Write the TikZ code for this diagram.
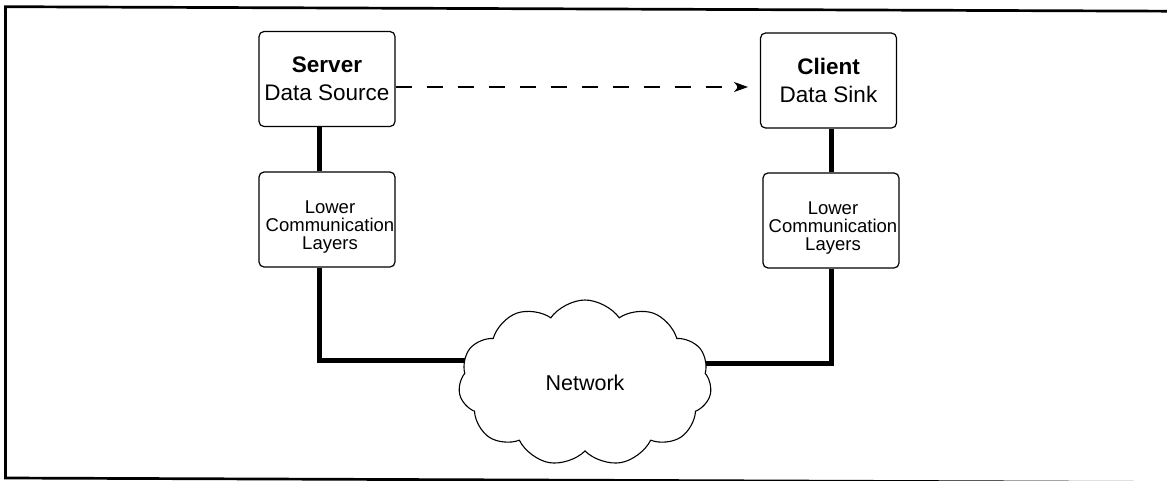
\documentclass[tikz,border=0pt]{standalone}
\usepackage{fontspec}
\setmainfont{Liberation Sans}
\usetikzlibrary{shapes.symbols,arrows.meta}
\begin{document}
\begin{tikzpicture}[x=1pt,y=-1pt,
  box/.style={draw, line width=1.2pt, rounded corners=5pt, minimum width=136pt, minimum height=95pt, inner sep=0pt, align=center, font=\fontsize{22.5}{28}\selectfont},
  lowbox/.style={box},
  lowtext/.style={inner sep=0pt, align=center, font=\fontsize{18.5}{18}\selectfont},
  wire/.style={line width=5pt, line join=miter},
  dasharrow/.style={line width=1.2pt, dash pattern=on 16pt off 15pt, -{Stealth[length=14pt,width=10pt,inset=4pt]}},
  netcloud/.style={cloud, cloud puffs=11, cloud puff arc=110, draw, line width=1.1pt, fill=white, minimum width=253pt, minimum height=166pt, inner sep=0pt, font=\fontsize{21.5}{25}\selectfont},
  frame/.style={line width=2.7pt}
]
\useasboundingbox (0,0) rectangle (1167,480);
% frame (slightly tilted scan, right side off the picture)
\draw[frame] (1175,11.2) -- (5.5,6.7) -- (5.5,478) -- (1175,482.5);

% boxes
\node[box] (srv) at (327,79) {\textbf{Server}\\Data Source};
\node[lowbox, label={[lowtext, xshift=3pt, yshift=-8pt]center:{Lower\\Communication\\Layers}}] (slow) at (327,219.5) {};
\node[box] (cli) at (828.5,80.5) {\textbf{Client}\\Data Sink};
\node[lowbox, label={[lowtext, xshift=2pt, yshift=-8pt]center:{Lower\\Communication\\Layers}}] (clow) at (831,220.5) {};

% helper coordinates
\coordinate (lx) at (319,0);
\coordinate (rx) at (831,0);
\coordinate (lj) at (490,360);
\coordinate (rj) at (690,363);
\coordinate (ae) at (748,0);

% wires
\draw[wire] (srv.south -| lx) -- (slow.north -| lx);
\draw[wire] (slow.south -| lx) |- (lj);
\draw[wire] (cli.south -| rx) -- (clow.north -| rx);
\draw[wire] (clow.south -| rx) |- (rj);

% network cloud (drawn over the wire ends)
\node[netcloud] (net) at (585,383) {Network};

% dashed data flow
\coordinate (ds) at ([yshift=-8pt]srv.east);
\draw[dasharrow] (ds) -- (ds -| ae);
\end{tikzpicture}
\end{document}
